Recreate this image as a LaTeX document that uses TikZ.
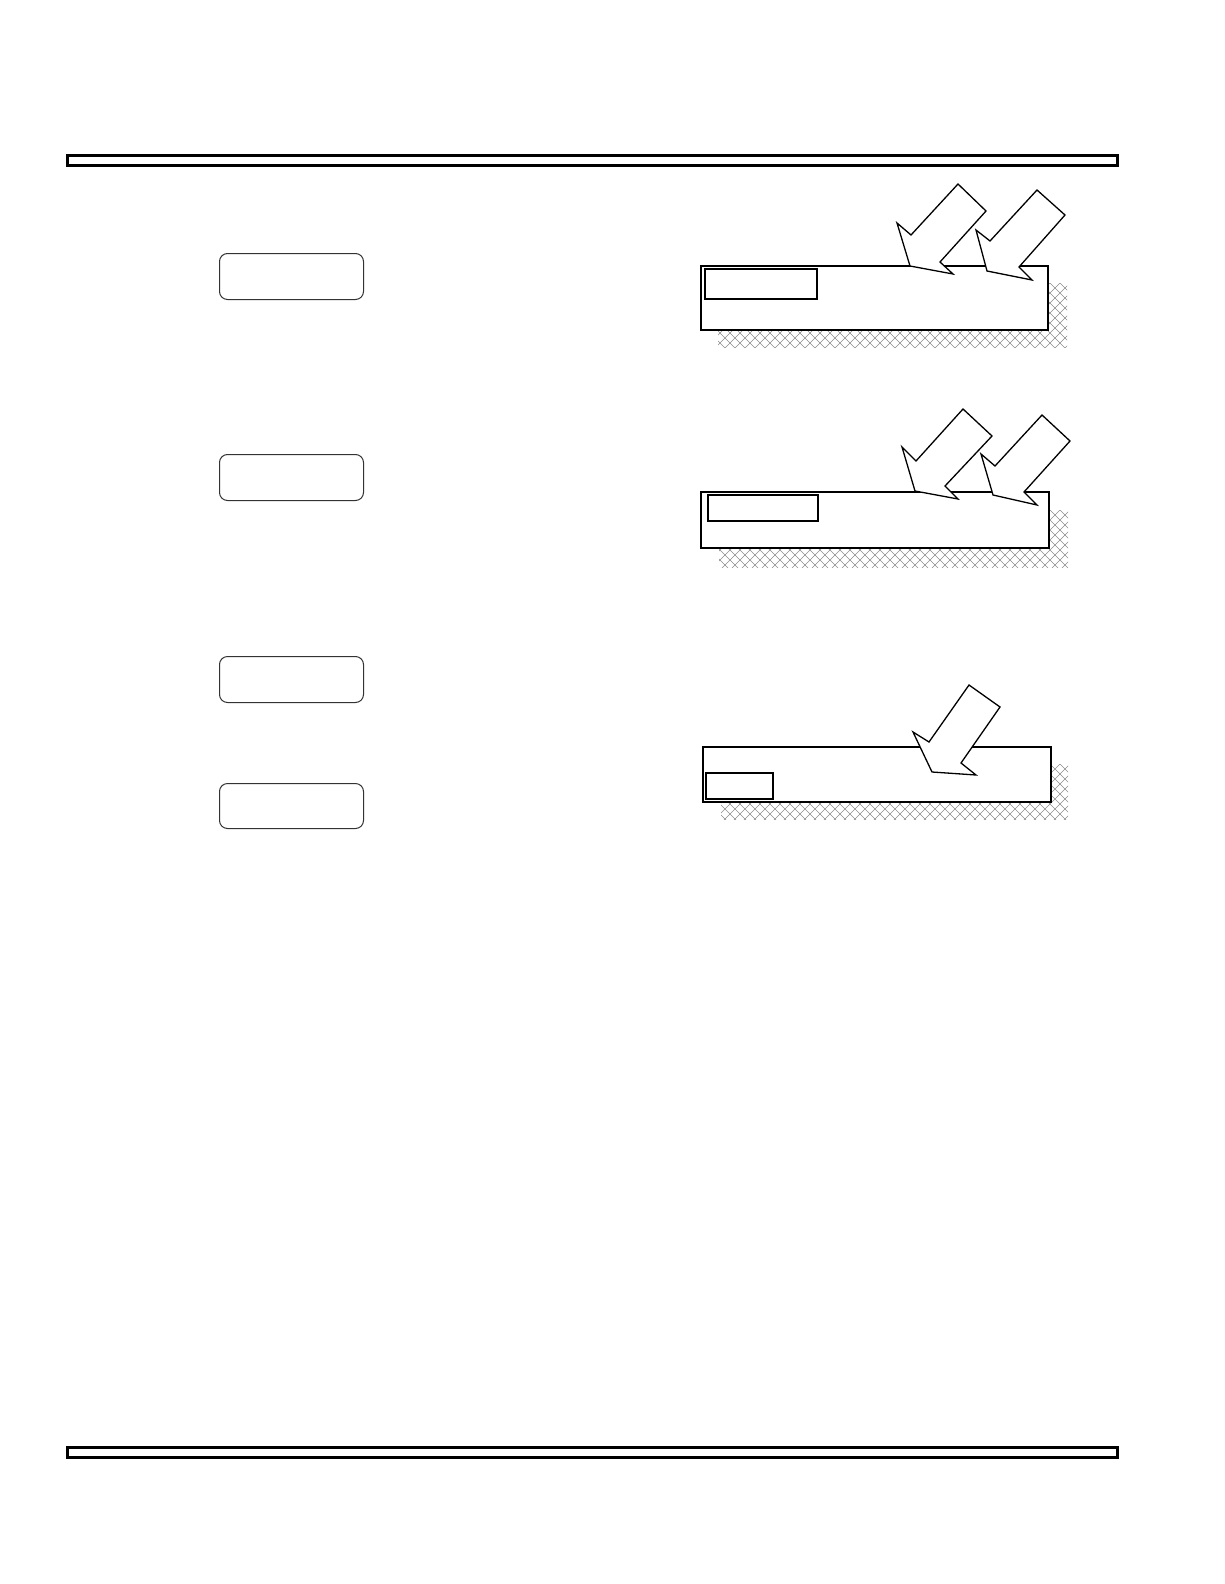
\documentclass[tikz,border=0pt]{standalone}
\newcommand\myhatch[4]{%
  \begin{scope}
    \clip (#1,#2) rectangle (#3,#4);
    \foreach \xx in {600,610,...,1130}{
      \draw[hatchline] (\xx,#2) -- ++(80,80);
      \draw[hatchline] (\xx,#2) -- ++(-80,80);
    }
  \end{scope}}
\tikzset{
  bar/.style={draw=black, line width=3pt},
  rbox/.style={draw=black!80, line width=1pt, rounded corners=8pt, fill=white},
  slab/.style={draw=black, line width=1.1pt, fill=white},
  label box/.style={draw=black, line width=1.2pt},
  label box thick/.style={draw=black, line width=2pt},
  blockarrow/.style={draw=black, line width=1.3pt, fill=white, line join=miter},
  hatchline/.style={draw=black!45, line width=0.5pt}
}
\begin{document}
\begin{tikzpicture}[x=1pt,y=-1pt]
\useasboundingbox (0,0) rectangle (1224,1584);
% top and bottom rules
\node[bar, minimum width=1050pt, minimum height=10pt, inner sep=0pt, anchor=north west] (topbar) at (65.5,153.5) {};
\node[bar, minimum width=1050pt, minimum height=10pt, inner sep=0pt, anchor=north west] (botbar) at (65.5,1445.5) {};
% rounded boxes on the left
\node[rbox, minimum width=144pt, minimum height=46pt, inner sep=0pt, anchor=north west] (b1) at (219,253) {};
\node[rbox, minimum width=144pt, minimum height=46pt, inner sep=0pt, anchor=north west] (b2) at (219,454) {};
\node[rbox, minimum width=144pt, minimum height=46pt, inner sep=0pt, anchor=north west] (b3) at (219,656) {};
\node[rbox, minimum width=144pt, minimum height=45pt, inner sep=0pt, anchor=north west] (b4) at (219,783) {};

% ---------- diagram 1 ----------
\myhatch{718}{283}{1067}{347}
\draw[slab] (701,266) rectangle (1048,330);
\draw[label box] (705,269) rectangle (817,299);
\draw[blockarrow] (958,184) -- (986,211) -- (940,262) -- (953,274) -- (910,266) -- (897,223) -- (911,235) -- cycle;
\draw[blockarrow] (1037,190) -- (1065,215) -- (1019,267) -- (1032,280) -- (987,271) -- (976,230) -- (990,241) -- cycle;

% ---------- diagram 2 ----------
\myhatch{719}{510}{1068}{567}
\draw[slab] (701,492) rectangle (1049,548);
\draw[label box thick] (708,495) rectangle (818,521);
\draw[blockarrow] (963,409) -- (992,436) -- (945,486) -- (958,499) -- (915,491) -- (902,447) -- (916,461) -- cycle;
\draw[blockarrow] (1042,415) -- (1070,441) -- (1024,492) -- (1037,505) -- (993,495) -- (981,454) -- (995,466) -- cycle;

% ---------- diagram 3 ----------
\myhatch{721}{764}{1068}{819}
\draw[slab] (703,747) rectangle (1051,802);
\draw[label box] (706,773) rectangle (773,799);
\draw[blockarrow] (969,685) -- (1000,707) -- (961,763) -- (976,775) -- (932,772) -- (913,732) -- (929,742) -- cycle;
\end{tikzpicture}
\end{document}
